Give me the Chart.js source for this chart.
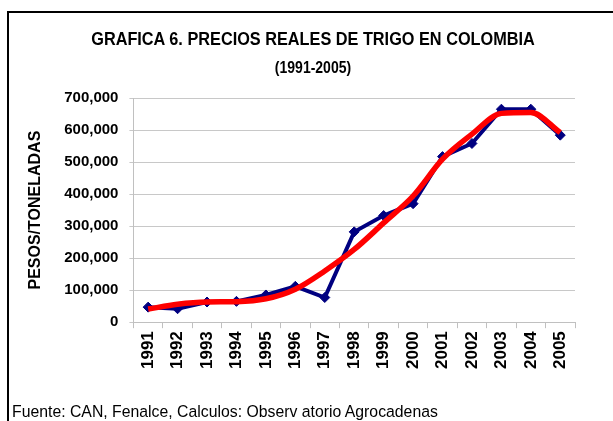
<!DOCTYPE html>
<html>
<head>
<meta charset="utf-8">
<script src="https://cdn.jsdelivr.net/npm/chart.js@4"></script>
<style>
  body { margin: 0; background: #fff; }
  #wrap { position: relative; width: 613px; height: 421px; overflow: hidden; font-family: "Liberation Sans", Arial, sans-serif; }
  #frame { position: absolute; left: 7px; top: 11px; width: 700px; height: 500px; border-left: 2px solid #000; border-top: 2px solid #000; }
  #chart { position: absolute; left: 0; top: 0; }
  .txt { position: absolute; white-space: nowrap; color: #000; transform-origin: 50% 50%; }
  #title { left: 0; width: 626px; top: 29px; text-align: center; font-weight: bold; font-size: 16.3px; transform: scaleY(1.15); }
  #subtitle { left: 0; width: 626px; top: 59px; text-align: center; font-weight: bold; font-size: 14px; transform: scaleY(1.15); }
  #footer { left: 12px; top: 402px; font-size: 15.8px; transform: scaleY(1.1); transform-origin: 0 50%; }
</style>
</head>
<body>
<div id="wrap">
  <div id="frame"></div>
  <canvas id="chart" width="613" height="421"></canvas>
  <div class="txt" id="title">GRAFICA 6. PRECIOS REALES DE TRIGO EN COLOMBIA</div>
  <div class="txt" id="subtitle">(1991-2005)</div>
  <div class="txt" id="footer">Fuente: CAN, Fenalce, Calculos: Observ atorio Agrocadenas</div>
</div>
<script>
// años y precios reales (pesos/tonelada)
const years = ['1991', '1992', '1993', '1994', '1995', '1996', '1997', '1998',
               '1999', '2000', '2001', '2002', '2003', '2004', '2005'];
const precios = [47000, 42000, 63000, 65000, 85000, 112000, 77000, 282000,
                 333000, 370000, 517000, 558000, 665000, 665000, 584000];
// línea de tendencia (roja)
const tendencia = [41000, 56000, 63000, 64000, 73000, 103000, 160000, 227000,
                   310000, 394000, 509000, 587000, 652000, 655000, 592000];
const yTicks = [0, 100000, 200000, 300000, 400000, 500000, 600000, 700000];

const FONT = '"Liberation Sans", Arial, sans-serif';

function formatMiles(v) {
    if (v === 0) return '0';
    return v.toLocaleString('en-US');
}

const ctx = document.getElementById('chart').getContext('2d');
new Chart(ctx, {
    type: 'line',
    data: {
        labels: years,
        datasets: [{
            label: 'Precio',
            data: precios,
            borderColor: '#000080',
            backgroundColor: '#000080',
            borderWidth: 4,
            pointStyle: 'rectRot',
            pointRadius: 5,
            pointBorderWidth: 1,
            tension: 0,
            order: 2
        }, {
            label: 'Tendencia',
            data: tendencia,
            borderColor: '#ff0000',
            borderWidth: 5.5,
            pointRadius: 0,
            cubicInterpolationMode: 'monotone',
            order: 1
        }]
    },
    options: {
        responsive: false,
        animation: false,
        layout: { padding: { top: 98, left: 26, right: 38, bottom: 49 } },
        plugins: {
            legend: { display: false },
            tooltip: { enabled: false }
        },
        scales: {
            x: {
                offset: true,
                grid: { offset: true, drawOnChartArea: false, color: '#c0c0c0', tickLength: 6 },
                border: { color: '#c0c0c0', width: 1 },
                ticks: {
                    minRotation: 90, maxRotation: 90, autoSkip: false,
                    color: '#000',
                    padding: 3,
                    font: { family: FONT, size: 17, weight: 'bold' }
                }
            },
            y: {
                min: 0, max: 700000,
                afterBuildTicks: axis => { axis.ticks = yTicks.map(v => ({ value: v })); },
                grid: { color: '#c8c8c8', tickLength: 4 },
                border: { color: '#c0c0c0', width: 1 },
                ticks: {
                    color: '#000',
                    padding: 11,
                    callback: v => formatMiles(v),
                    font: { family: FONT, size: 15, weight: 'bold' }
                },
                title: {
                    display: true,
                    text: 'PESOS/TONELADAS',
                    color: '#000',
                    padding: { top: 0, bottom: 8 },
                    font: { family: FONT, size: 16, weight: 'bold' }
                }
            }
        }
    }
});
</script>
</body>
</html>
